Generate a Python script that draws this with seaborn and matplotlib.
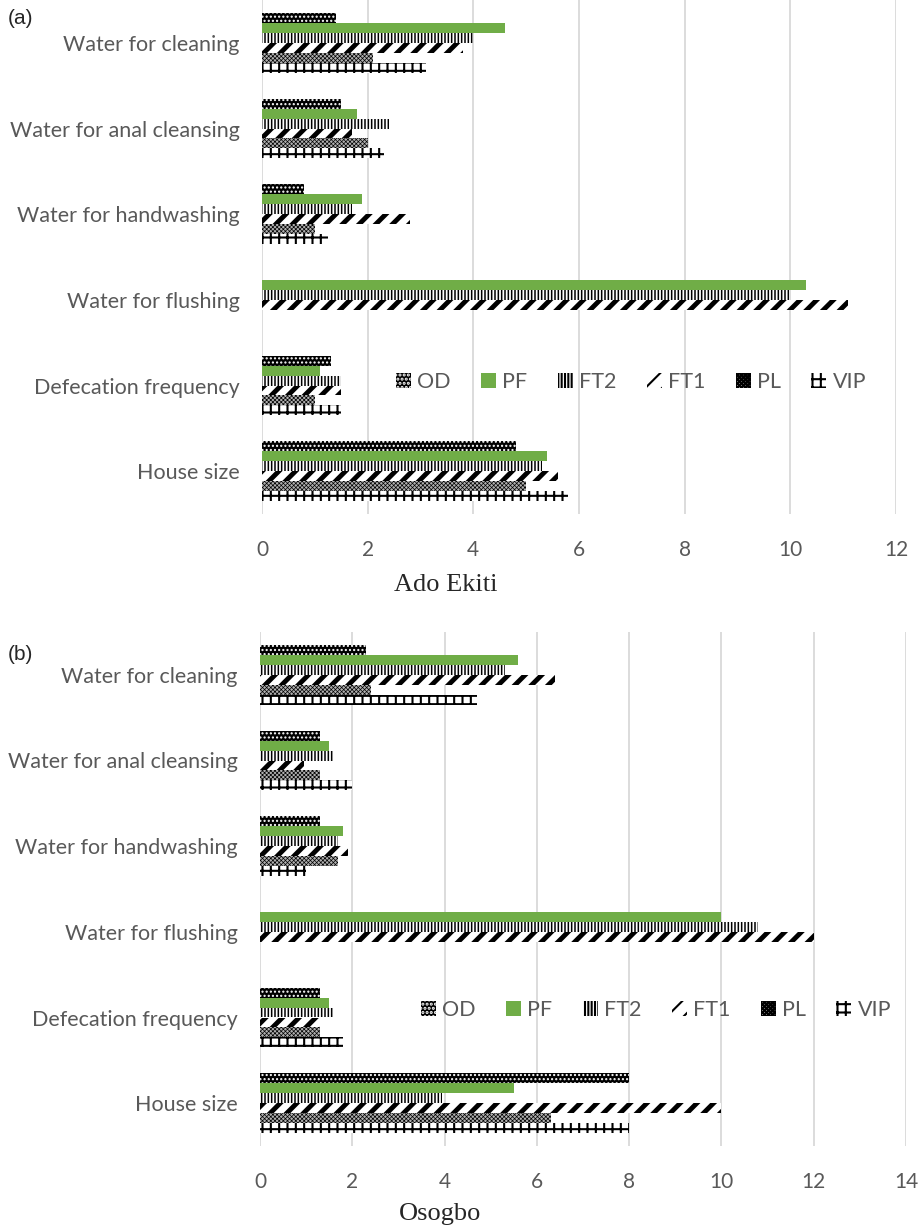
import numpy as np
import pandas as pd
import matplotlib as mpl
mpl.use("Agg")
import matplotlib.pyplot as plt
from matplotlib.patches import Patch
import seaborn as sns

categories = ["Water for cleaning", "Water for anal cleansing", "Water for handwashing",
              "Water for flushing", "Defecation frequency", "House size"]
types = ["OD", "PF", "FT2", "FT1", "PL", "VIP"]

# Ado Ekiti values, one list per toilet type (order follows categories)
ado_od = [1.4, 1.5, 0.8, 0.0, 1.3, 4.8]
ado_pf = [4.6, 1.8, 1.9, 10.3, 1.1, 5.4]
ado_ft2 = [4.0, 2.4, 1.7, 10.0, 1.5, 5.3]
ado_ft1 = [3.8, 1.7, 2.8, 11.1, 1.5, 5.6]
ado_pl = [2.1, 2.0, 1.0, 0.0, 1.0, 5.0]
ado_vip = [3.1, 2.3, 1.25, 0.0, 1.5, 5.8]

# Osogbo values
oso_od = [2.3, 1.3, 1.3, 0.0, 1.3, 8.0]
oso_pf = [5.6, 1.5, 1.8, 10.0, 1.5, 5.5]
oso_ft2 = [5.3, 1.6, 1.7, 10.8, 1.6, 3.95]
oso_ft1 = [6.4, 0.95, 1.9, 12.0, 1.3, 10.0]
oso_pl = [2.4, 1.3, 1.7, 0.0, 1.3, 6.3]
oso_vip = [4.7, 2.0, 1.0, 0.0, 1.8, 8.0]

GREY = "#595959"
GREEN = "#70AD47"
# facecolor, hatch colour, hatch, hatch linewidth
styles = {
    "OD": ("black", "white", "....", 1.0),
    "PF": (GREEN, GREEN, "", 1.0),
    "FT2": ("white", "black", "|||||", 1.1),
    "FT1": ("white", "black", "//", 3.5),
    "PL": ("#b0b0b0", "black", "xxxxxxxx", 0.5),
    "VIP": ("white", "black", "++", 1.5),
}


def long_frame(series):
    rows = []
    for t, vals in zip(types, series):
        for c, v in zip(categories, vals):
            rows.append({"category": c, "type": t, "value": v})
    return pd.DataFrame(rows)


def style_patch(p, t):
    fc, hc, h, lw = styles[t]
    p.set_facecolor(fc)
    p.set_edgecolor(hc)
    p.set_linewidth(0)
    p.set_hatch(h)
    try:
        p.set_hatch_linewidth(lw)
    except AttributeError:
        pass


def draw_panel(ax, df, xmax, legend_anchor):
    sns.barplot(data=df, y="category", x="value", hue="type", order=categories,
                hue_order=types, orient="h", width=0.7, dodge=True, ax=ax,
                palette=["white"] * 6, legend=False, errorbar=None)
    for cont, t in zip(ax.containers, types):
        for p in cont:
            style_patch(p, t)
    ax.set_xlim(0, xmax)
    ax.set_xticks(np.arange(0, xmax + 1, 2))
    ax.grid(axis="x", color="#d9d9d9", linewidth=1.3)
    ax.grid(axis="y", visible=False)
    ax.set_axisbelow(True)
    for s in ax.spines.values():
        s.set_visible(False)
    ax.set_xlabel("")
    ax.set_ylabel("")
    ax.tick_params(axis="x", length=0, pad=19, labelsize=15, labelcolor=GREY)
    ax.tick_params(axis="y", length=0, pad=16, labelsize=15.5, labelcolor=GREY)
    handles = []
    for t in types:
        hp = Patch(label=t)
        style_patch(hp, t)
        handles.append(hp)
    leg = ax.legend(handles=handles, loc="center", bbox_to_anchor=legend_anchor,
                    ncol=6, frameon=False, handlelength=0.7, handleheight=0.7,
                    handletextpad=0.3, columnspacing=1.4, fontsize=15.5)
    for txt in leg.get_texts():
        txt.set_color(GREY)


sns.set_theme(style="white")
plt.rcParams["font.family"] = ["Lato", "DejaVu Sans"]
plt.rcParams["hatch.linewidth"] = 1.5

fig = plt.figure(figsize=(9.2, 12.27), dpi=100)
ax1 = fig.add_axes([262 / 920, 1 - 514 / 1227, (896 - 262) / 920, 514 / 1227])
ax2 = fig.add_axes([260 / 920, 1 - 1146 / 1227, (906 - 260) / 920, (1146 - 632) / 1227])

df_ado = long_frame([ado_od, ado_pf, ado_ft2, ado_ft1, ado_pl, ado_vip])
df_oso = long_frame([oso_od, oso_pf, oso_ft2, oso_ft1, oso_pl, oso_vip])

draw_panel(ax1, df_ado, 12, ((631 - 262) / 634, 1 - 382 / 514))
draw_panel(ax2, df_oso, 14, ((656 - 260) / 646, 1 - (1010 - 632) / 514))

fig.text(446 / 920, 1 - 585 / 1227, "Ado Ekiti", ha="center", va="center",
         family="Liberation Serif", fontsize=19)
fig.text(440 / 920, 1 - 1214 / 1227, "Osogbo", ha="center", va="center",
         family="Liberation Serif", fontsize=19)
fig.text(8 / 920, 1 - 18 / 1227, "(a)", ha="left", va="center",
         family="Liberation Sans", fontsize=15)
fig.text(8 / 920, 1 - 655 / 1227, "(b)", ha="left", va="center",
         family="Liberation Sans", fontsize=15)

fig.savefig("out.png", dpi=100)
